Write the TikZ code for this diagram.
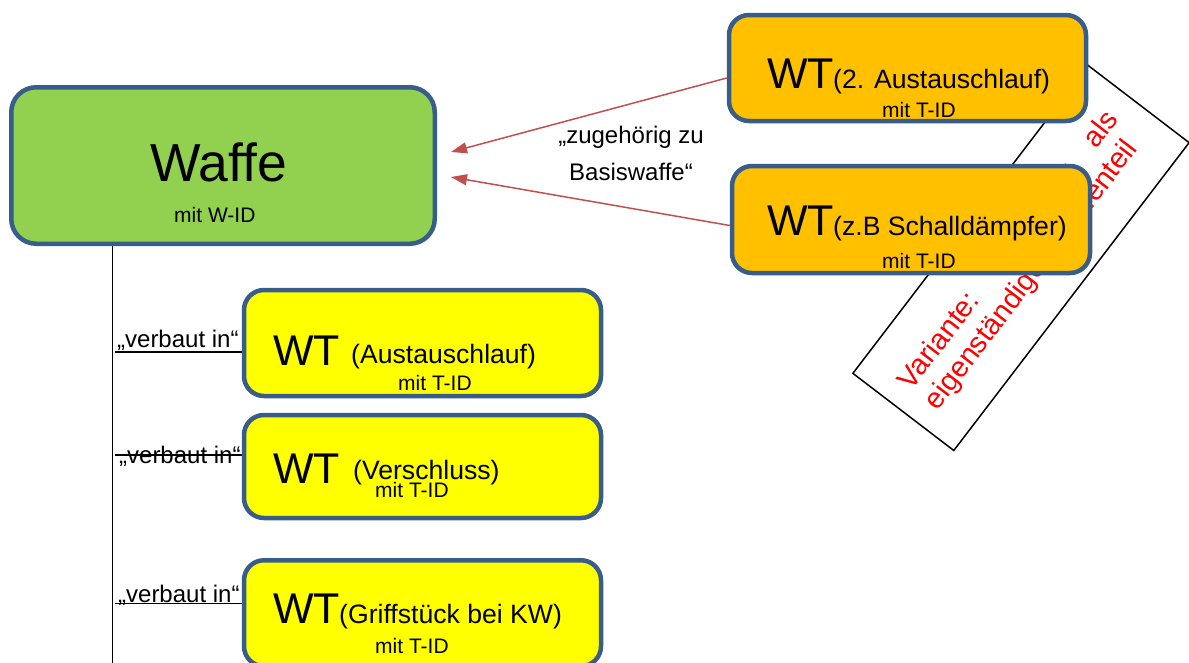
\documentclass[tikz,border=0pt]{standalone}
\usepackage{fontspec}
\setmainfont{Liberation Sans}
\usepackage{tikz}
\usetikzlibrary{shapes,arrows,arrows.meta}
\definecolor{boxBorder}{HTML}{385D8A}
\definecolor{waffeGreen}{HTML}{92D050}
\definecolor{wtOrange}{HTML}{FFC000}
\definecolor{wtYellow}{HTML}{FFFF00}
\definecolor{arrowRed}{HTML}{C0504D}
\tikzstyle{block} = [draw=boxBorder, line width=4.5pt, rectangle, rounded corners=20pt, inner sep=0pt]
\tikzstyle{line} = [draw, line width=1.5pt]
\tikzstyle{arrowLine} = [draw=arrowRed, line width=1.5pt, -{Triangle[length=16pt,width=11pt]}]
\tikzstyle{txt} = [inner sep=0pt, anchor=base west]
\tikzstyle{bigText} = [txt, font=\fontsize{43}{51}\selectfont]
\tikzstyle{subText} = [txt, font=\fontsize{26.6}{32}\selectfont]
\tikzstyle{idText} = [txt, font=\fontsize{21}{25}\selectfont]
\tikzstyle{labelText} = [inner sep=0pt, anchor=base east, font=\fontsize{24}{29}\selectfont]

\begin{document}
\begin{tikzpicture}[x=1pt,y=-1pt]
		\useasboundingbox (0,0) rectangle (1189,662);
		\node[draw, line width=1.5pt, rotate=52.6, minimum width=387.5pt, minimum height=127pt](variante) at (1021,258){};
		\node[inner sep=0pt, rotate=52.6, text width=342pt, align=justify, text=red, font=\fontsize{29}{33}\selectfont](varianteText) at (1022.5,261){\hyphenpenalty=10000 Variante: Zubehör als\linebreak eigenständiges Waffenteil};
		\node[block, fill=waffeGreen, rounded corners=25pt, minimum width=423.5pt, minimum height=156.5pt](waffe) at (223,165.5){};
		\node[block, fill=wtOrange, minimum width=357pt, minimum height=106pt](wtLauf2) at (907.5,68){};
		\node[block, fill=wtOrange, minimum width=358pt, minimum height=107pt](wtDaempfer) at (911,219.5){};
		\node[block, fill=wtYellow, minimum width=357pt, minimum height=106pt](wtLauf) at (422.5,343){};
		\node[block, fill=wtYellow, minimum width=357pt, minimum height=103pt](wtVerschluss) at (422.5,466.5){};
		\node[block, fill=wtYellow, minimum width=357pt, minimum height=106pt](wtGriff) at (422.5,613.25){};
		%texts
		\node[txt, font=\fontsize{53.5}{64}\selectfont](waffeName) at (150,181){Waffe};
		\node[idText](waffeId) at (174,222){mit W-ID};
		\node[bigText](lauf2WT) at (767,88){WT};
		\node[subText](lauf2Sub) at (833,88){(2. Austauschlauf)};
		\node[idText](lauf2Id) at (882,117){mit T-ID};
		\node[bigText](daempferWT) at (767,235){WT};
		\node[subText](daempferSub) at (833,235){(z.B Schalldämpfer)};
		\node[idText](daempferId) at (882,268){mit T-ID};
		\node[bigText](laufWT) at (273,365){WT};
		\node[subText](laufSub) at (351,363){(Austauschlauf)};
		\node[idText](laufId) at (398,390){mit T-ID};
		\node[bigText](verschlussWT) at (273,483){WT};
		\node[subText](verschlussSub) at (353,479){(Verschluss)};
		\node[idText](verschlussId) at (375,497){mit T-ID};
		\node[bigText](griffWT) at (273,623){WT};
		\node[subText](griffSub) at (339,623){(Griffstück bei KW)};
		\node[idText](griffId) at (375,653){mit T-ID};
		\node[inner sep=0pt, align=center, font=\fontsize{24}{37}\selectfont](basisLabel) at (631,153){„zugehörig zu\\Basiswaffe“};
		\node[labelText](verbautLauf) at ([xshift=-3pt,yshift=-4pt]wtLauf.west){„verbaut in“};
		\node[labelText](verbautVerschluss) at ([xshift=-1pt,yshift=3.5pt]wtVerschluss.west){„verbaut in“};
		\node[labelText](verbautGriff) at ([xshift=-2pt,yshift=11pt]wtGriff.west){„verbaut in“};
		%arrows
		\path[arrowLine]([yshift=-10pt]wtLauf2.west)--([xshift=14pt,yshift=13.5pt]waffe.east);
		\path[arrowLine]([yshift=-6pt]wtDaempfer.west)--([xshift=14pt,yshift=-11.5pt]waffe.east);
		\path[line]([xshift=103.5pt]waffe.south west)--++(0,430);
		\path[line]([yshift=-9pt]wtLauf.west)--++(-127,0);
		\path[line]([yshift=11.5pt]wtVerschluss.west)--++(-127,0);
		\path[line]([yshift=10pt]wtGriff.west)--++(-127,0);
\end{tikzpicture}
\end{document}
